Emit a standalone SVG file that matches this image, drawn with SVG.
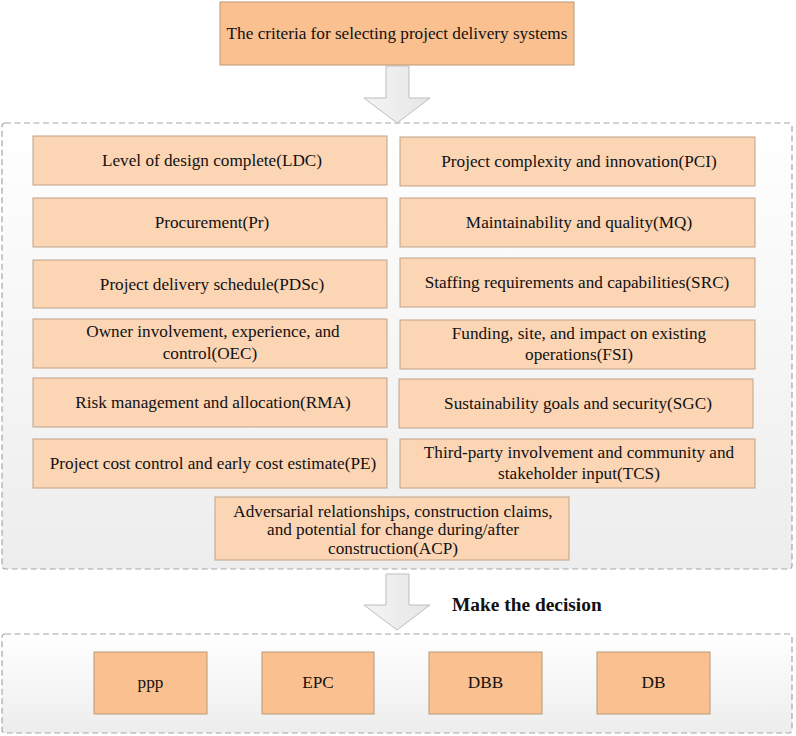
<svg xmlns="http://www.w3.org/2000/svg" width="796" height="736" viewBox="0 0 796 736">
<defs>
<linearGradient id="cg" x1="0" y1="0" x2="0" y2="1">
<stop offset="0" stop-color="#FFFFFF"/>
<stop offset="1" stop-color="#EDEDED"/>
</linearGradient>
<linearGradient id="ag" x1="0" y1="0" x2="1" y2="0">
<stop offset="0" stop-color="#F4F4F4"/>
<stop offset="1" stop-color="#E6E6E6"/>
</linearGradient>
</defs>
<style>
.cont{fill:url(#cg);stroke:#A6A6A6;stroke-width:1.2;stroke-dasharray:6 3.5}
.crit{fill:#FCD5B5;stroke:#BFA28A;stroke-width:1}
.dark{fill:#FAC090;stroke:#B89878;stroke-width:1}
.t{font-family:"Liberation Serif","Times New Roman",serif;font-size:17.2px;fill:#111;text-anchor:middle}
.tb{font-family:"Liberation Serif","Times New Roman",serif;font-size:19.4px;font-weight:bold;fill:#111}
.arr{fill:url(#ag);stroke:#BDBDBD;stroke-width:1}
</style>
<rect width="796" height="736" fill="#FFFFFF"/>
<g id="container-criteria"><rect class="cont" x="2" y="123" width="790" height="446" rx="3"/></g>
<g id="container-decision"><rect class="cont" x="2" y="634" width="790" height="99" rx="3"/></g>

<g id="connectors">
<polygon class="arr" points="386,66 409,66 409,98 430,98 397,123 364,98 386,98"/>
<polygon class="arr" points="386,574 409,574 409,605 430,605 397,630 364,605 386,605"/>
</g>

<g id="title"><rect class="dark" x="220" y="2" width="354" height="63"/><text class="t" x="397" y="39">The criteria for selecting project delivery systems</text></g>

<g id="LDC"><rect class="crit" x="33" y="136" width="354" height="49"/><text class="t" x="212" y="166">Level of design complete(LDC)</text></g>
<g id="Pr"><rect class="crit" x="33" y="198" width="354" height="49"/><text class="t" x="212" y="228">Procurement(Pr)</text></g>
<g id="PDSc"><rect class="crit" x="33" y="260" width="354" height="48"/><text class="t" x="212" y="290">Project delivery schedule(PDSc)</text></g>
<g id="OEC"><rect class="crit" x="33" y="319" width="354" height="49"/><text class="t" x="213" y="337">Owner involvement, experience, and</text><text class="t" x="210" y="359">control(OEC)</text></g>
<g id="RMA"><rect class="crit" x="33" y="378" width="354" height="49"/><text class="t" x="213" y="408">Risk management and allocation(RMA)</text></g>
<g id="PE"><rect class="crit" x="33" y="439" width="354" height="49"/><text class="t" x="213" y="469">Project cost control and early cost estimate(PE)</text></g>

<g id="PCI"><rect class="crit" x="400" y="137" width="355" height="49"/><text class="t" x="579" y="167">Project complexity and innovation(PCI)</text></g>
<g id="MQ"><rect class="crit" x="400" y="198" width="355" height="49"/><text class="t" x="579" y="228">Maintainability and quality(MQ)</text></g>
<g id="SRC"><rect class="crit" x="400" y="258" width="355" height="49"/><text class="t" x="577" y="288">Staffing requirements and capabilities(SRC)</text></g>
<g id="FSI"><rect class="crit" x="400" y="320" width="355" height="49"/><text class="t" x="579" y="339">Funding, site, and impact on existing</text><text class="t" x="579" y="360">operations(FSI)</text></g>
<g id="SGC"><rect class="crit" x="399" y="379" width="354" height="49"/><text class="t" x="578" y="409">Sustainability goals and security(SGC)</text></g>
<g id="TCS"><rect class="crit" x="400" y="439" width="355" height="49"/><text class="t" x="579" y="458">Third-party involvement and community and</text><text class="t" x="579" y="479">stakeholder input(TCS)</text></g>

<g id="ACP"><rect class="crit" x="215" y="497" width="354" height="63"/><text class="t" x="393" y="517">Adversarial relationships, construction claims,</text><text class="t" x="393" y="535">and potential for change during/after</text><text class="t" x="393" y="554">construction(ACP)</text></g>

<g id="decision-label"><text class="tb" x="452" y="611">Make the decision</text></g>

<g id="ppp"><rect class="dark" x="94" y="652" width="113" height="62"/><text class="t" x="150.5" y="688">ppp</text></g>
<g id="EPC"><rect class="dark" x="262" y="652" width="112" height="62"/><text class="t" x="318" y="688">EPC</text></g>
<g id="DBB"><rect class="dark" x="429" y="652" width="113" height="62"/><text class="t" x="485.5" y="688">DBB</text></g>
<g id="DB"><rect class="dark" x="597" y="652" width="113" height="62"/><text class="t" x="653.5" y="688">DB</text></g>
</svg>
